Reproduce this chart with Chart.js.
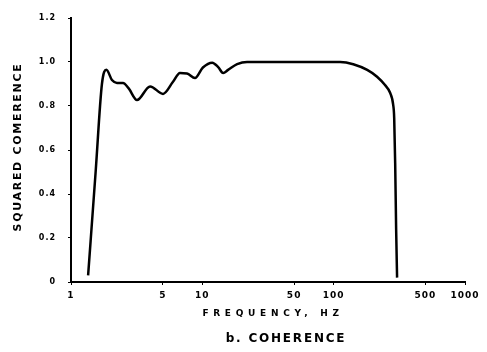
<!DOCTYPE html>
<html>
<head>
<meta charset="utf-8">
<script src="https://cdn.jsdelivr.net/npm/chart.js@4/dist/chart.umd.min.js"></script>
<style>
  html, body { margin: 0; padding: 0; background: #fff; }
</style>
</head>
<body>
<canvas id="coherence_chart" width="487" height="352"></canvas>
<script>
// squared coherence vs frequency
const freqHz = [1.35, 1.54, 1.72, 1.86, 2.05, 2.24, 2.49, 2.75, 3.18, 4.0, 5.02, 5.98, 6.76, 7.64, 8.79, 10.1, 11.9, 13.2, 14.4, 15.7, 18.4, 21.9, 26.1, 50, 112, 141, 180, 214, 246, 269, 284, 289, 294, 299, 304];
const coherence = [0.03, 0.5, 0.9, 0.965, 0.918, 0.905, 0.905, 0.88, 0.827, 0.889, 0.855, 0.91, 0.95, 0.948, 0.927, 0.975, 0.997, 0.977, 0.95, 0.964, 0.99, 1.0, 1.0, 1.0, 1.0, 0.99, 0.964, 0.933, 0.895, 0.86, 0.805, 0.745, 0.54, 0.24, 0.02];

const xTicks = [1, 5, 10, 50, 100, 500, 1000];
const yTicks = [0, 0.2, 0.4, 0.6, 0.8, 1.0, 1.2];

const xTitle = 'FREQUENCY, HZ';
const yTitle = 'SQUARED COMERENCE';
const caption = 'b. COHERENCE';

const FONT = '"DejaVu Sans", sans-serif';

// spaced-out lettering, and the titles drawn with their own spacing
const letteringPlugin = {
    id: 'lettering',
    beforeDraw(chart) {
        chart.ctx.letterSpacing = '1px';
    },
    afterDraw(chart) {
        const ctx = chart.ctx;
        const area = chart.chartArea;
        const midX = (area.left + area.right) / 2;
        const midY = (area.top + area.bottom) / 2;
        ctx.save();
        ctx.fillStyle = '#000';
        ctx.textAlign = 'center';
        ctx.textBaseline = 'middle';

        ctx.font = 'bold 9px ' + FONT;
        ctx.letterSpacing = '4.7px';
        ctx.fillText(xTitle, midX + 5, area.bottom + 32);

        ctx.font = 'bold 12px ' + FONT;
        ctx.letterSpacing = '1.8px';
        ctx.fillText(caption, midX + 18, area.bottom + 57);

        ctx.translate(18, midY - 3);
        ctx.rotate(-Math.PI / 2);
        ctx.font = 'bold 11px ' + FONT;
        ctx.letterSpacing = '1.7px';
        ctx.fillText(yTitle, 0, 0);
        ctx.restore();
    }
};

const ctx = document.getElementById('coherence_chart').getContext('2d');
const coherence_chart = new Chart(ctx, {
    type: 'line',
    data: {
        datasets: [
            {
                label: 'Squared coherence',
                data: freqHz.map((f, i) => ({ x: f, y: coherence[i] })),
                borderColor: '#000',
                borderWidth: 2.5,
                pointRadius: 0,
                cubicInterpolationMode: 'monotone',
                fill: false
            }
        ]
    },
    options: {
        responsive: false,
        animation: false,
        devicePixelRatio: 1,
        layout: {
            padding: { left: 0, right: 22, top: 18, bottom: 0 }
        },
        plugins: {
            legend: { display: false },
            tooltip: { enabled: false }
        },
        scales: {
            x: {
                type: 'logarithmic',
                min: 1,
                max: 1000,
                afterBuildTicks: scale => {
                    scale.ticks = xTicks.map(v => ({ value: v }));
                },
                afterFit: scale => {
                    scale.height = 70;
                },
                ticks: {
                    color: '#000',
                    font: { family: FONT, size: 9, weight: 'bold' },
                    padding: 5,
                    maxRotation: 0,
                    autoSkip: false,
                    callback: v => String(v)
                },
                grid: {
                    drawOnChartArea: false,
                    drawTicks: true,
                    tickLength: 3,
                    color: '#000'
                },
                border: { color: '#000', width: 2 }
            },
            y: {
                min: 0,
                max: 1.2,
                afterBuildTicks: scale => {
                    scale.ticks = yTicks.map(v => ({ value: v }));
                },
                afterFit: scale => {
                    scale.width = 71;
                },
                ticks: {
                    color: '#000',
                    font: { family: FONT, size: 8, weight: 'bold' },
                    padding: 12,
                    callback: v => (v === 0 ? '0' : v.toFixed(1))
                },
                grid: {
                    drawOnChartArea: false,
                    drawTicks: true,
                    tickLength: 3,
                    color: '#000'
                },
                border: { color: '#000', width: 2 }
            }
        }
    },
    plugins: [letteringPlugin]
});
</script>
</body>
</html>
